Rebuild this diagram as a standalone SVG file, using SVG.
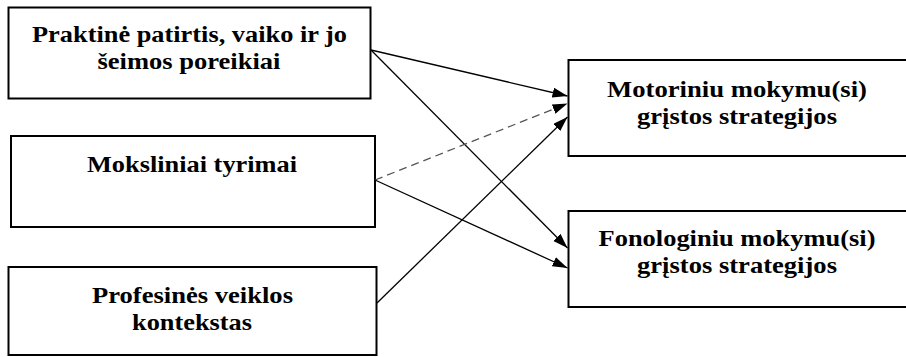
<svg xmlns="http://www.w3.org/2000/svg" width="906" height="357" viewBox="0 0 906 357">
  <style>
    .box { fill: #ffffff; stroke: #000000; stroke-width: 2; }
    .label { font-family: "Liberation Serif", "Times New Roman", serif; font-weight: bold; font-size: 23px; fill: #000000; text-anchor: middle; }
    .link { fill: none; stroke: #000000; stroke-width: 1.3; }
    .link.dashed { stroke: #555555; stroke-dasharray: 8 5; }
  </style>
  <defs>
    <marker id="arrow" markerUnits="userSpaceOnUse" markerWidth="16" markerHeight="11" refX="15" refY="5" orient="auto">
      <path d="M0,0 L15,5 L0,10 z" fill="#000000"/>
    </marker>
  </defs>
  <rect width="906" height="357" fill="#ffffff"/>

  <!-- source boxes (left column) -->
  <g id="node-praktine">
    <rect class="box" x="8.5" y="7.5" width="362" height="91"/>
    <text class="label" x="189.5" y="41.5" textLength="315" lengthAdjust="spacingAndGlyphs">Praktinė patirtis, vaiko ir jo</text>
    <text class="label" x="189" y="68.5" textLength="183" lengthAdjust="spacingAndGlyphs">šeimos poreikiai</text>
  </g>

  <g id="node-moksliniai">
    <rect class="box" x="11" y="136" width="364" height="91"/>
    <text class="label" x="192" y="171.5" textLength="210" lengthAdjust="spacingAndGlyphs">Moksliniai tyrimai</text>
  </g>

  <g id="node-profesines">
    <rect class="box" x="8.5" y="267" width="368" height="88"/>
    <text class="label" x="192.5" y="303" textLength="201" lengthAdjust="spacingAndGlyphs">Profesinės veiklos</text>
    <text class="label" x="192" y="330" textLength="120" lengthAdjust="spacingAndGlyphs">kontekstas</text>
  </g>

  <!-- strategy boxes (right column) -->
  <g id="node-motoriniu">
    <rect class="box" x="568.5" y="60" width="340" height="96"/>
    <text class="label" x="737" y="96.5" textLength="260" lengthAdjust="spacingAndGlyphs">Motoriniu mokymu(si)</text>
    <text class="label" x="737" y="123.5" textLength="200" lengthAdjust="spacingAndGlyphs">grįstos strategijos</text>
  </g>

  <g id="node-fonologiniu">
    <rect class="box" x="568.5" y="211" width="340" height="96"/>
    <text class="label" x="737" y="246" textLength="277" lengthAdjust="spacingAndGlyphs">Fonologiniu mokymu(si)</text>
    <text class="label" x="737" y="273" textLength="200" lengthAdjust="spacingAndGlyphs">grįstos strategijos</text>
  </g>

  <g id="connectors">
    <line class="link" x1="371" y1="50" x2="567.5" y2="96" marker-end="url(#arrow)"/>
    <line class="link" x1="371" y1="50" x2="567.5" y2="248" marker-end="url(#arrow)"/>
    <line class="link dashed" x1="375" y1="180" x2="567.5" y2="103.5" marker-end="url(#arrow)"/>
    <line class="link" x1="375" y1="180" x2="567.5" y2="268" marker-end="url(#arrow)"/>
    <line class="link" x1="377" y1="303" x2="567.5" y2="117" marker-end="url(#arrow)"/>
  </g>
</svg>
